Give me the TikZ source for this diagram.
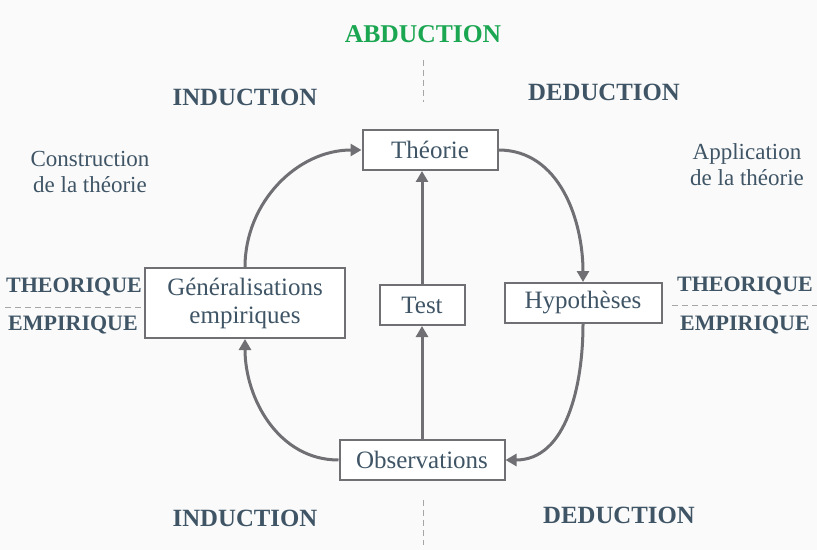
\documentclass[tikz,border=0pt]{standalone}
\usepackage{fontspec}
\setmainfont{Liberation Serif}
\usepackage{tikz}
\usetikzlibrary{arrows.meta}

\definecolor{txtblue}{HTML}{3F5566}
\definecolor{abdgreen}{HTML}{1BA652}
\definecolor{boxgray}{HTML}{707074}
\definecolor{bggray}{HTML}{FAFAFA}

\tikzset{
  box/.style={draw=boxgray,line width=1pt,fill=white,text=txtblue,
    font=\fontsize{12.5}{14}\selectfont,inner sep=0pt,align=center},
  heading/.style={text=txtblue,font=\fontsize{12.4}{14}\selectfont\bfseries},
  side/.style={text=txtblue,font=\fontsize{11.5}{13}\selectfont,align=center},
  level/.style={text=txtblue,font=\fontsize{11}{12}\selectfont\bfseries},
  flow/.style={draw=boxgray,line width=1.5pt,-{Triangle[length=5.5pt,width=6pt]}},
  sep/.style={draw=gray!70,line width=0.5pt,dash pattern=on 3pt off 2pt}
}

\begin{document}
\begin{tikzpicture}[x=0.5pt,y=-0.5pt]
  \fill[bggray] (0,0) rectangle (817,550);
  \useasboundingbox (0,0) rectangle (817,550);

  % headings
  \node[heading,text=abdgreen,font=\fontsize{12.8}{14}\selectfont\bfseries] (abd) at (423,34) {ABDUCTION};
  \node[heading] (indtop) at (245,97) {INDUCTION};
  \node[heading] (dedtop) at (604,92) {DEDUCTION};
  \node[heading] (indbot) at (245,518) {INDUCTION};
  \node[heading] (dedbot) at (619,515) {DEDUCTION};
  \node[side] (constr) at (90,172) {Construction\\de la th\'eorie};
  \node[side] (appl) at (747,165) {Application\\de la th\'eorie};

  % theorique / empirique
  \node[level] (thl) at (74,287) {THEORIQUE};
  \node[level] (eml) at (73,325) {EMPIRIQUE};
  \node[level] (thr) at (745,286) {THEORIQUE};
  \node[level] (emr) at (745,325) {EMPIRIQUE};
  \coordinate (sl1) at (5,307);
  \coordinate (sl2) at (145,307);
  \coordinate (sr1) at (672,305);
  \coordinate (sr2) at (817,305);
  \coordinate (st1) at (423,60);
  \coordinate (st2) at (423,102);
  \coordinate (sb1) at (423,500);
  \coordinate (sb2) at (423,545);
  \draw[sep] (sl1) -- (sl2);
  \draw[sep] (sr1) -- (sr2);
  \draw[sep] (st1) -- (st2);
  \draw[sep] (sb1) -- (sb2);

  % boxes
  \node[box,minimum width=135*0.5pt,minimum height=40*0.5pt] (theo) at (430,150) {Th\'eorie};
  \node[box,minimum width=200*0.5pt,minimum height=70*0.5pt] (gen) at (245,303) {G\'en\'eralisations\\empiriques};
  \node[box,minimum width=85*0.5pt,minimum height=40*0.5pt] (test) at (422,305) {Test};
  \node[box,minimum width=157*0.5pt,minimum height=40*0.5pt] (hyp) at (583,303) {Hypoth\`eses};
  \node[box,minimum width=165*0.5pt,minimum height=40*0.5pt] (obs) at (422,460) {Observations};

  % connectors
  \draw[flow] (test) -- (theo.south -| test);
  \draw[flow] (obs) -- (test);
  \draw[flow] (gen.north) to[out=90,in=180] (theo.west);
  \draw[flow] (theo.east) to[out=0,in=90] (hyp.north);
  \draw[flow] (hyp.south) to[out=270,in=0] (obs.east);
  \draw[flow] (obs.west) to[out=180,in=270] (gen.south);
\end{tikzpicture}
\end{document}
